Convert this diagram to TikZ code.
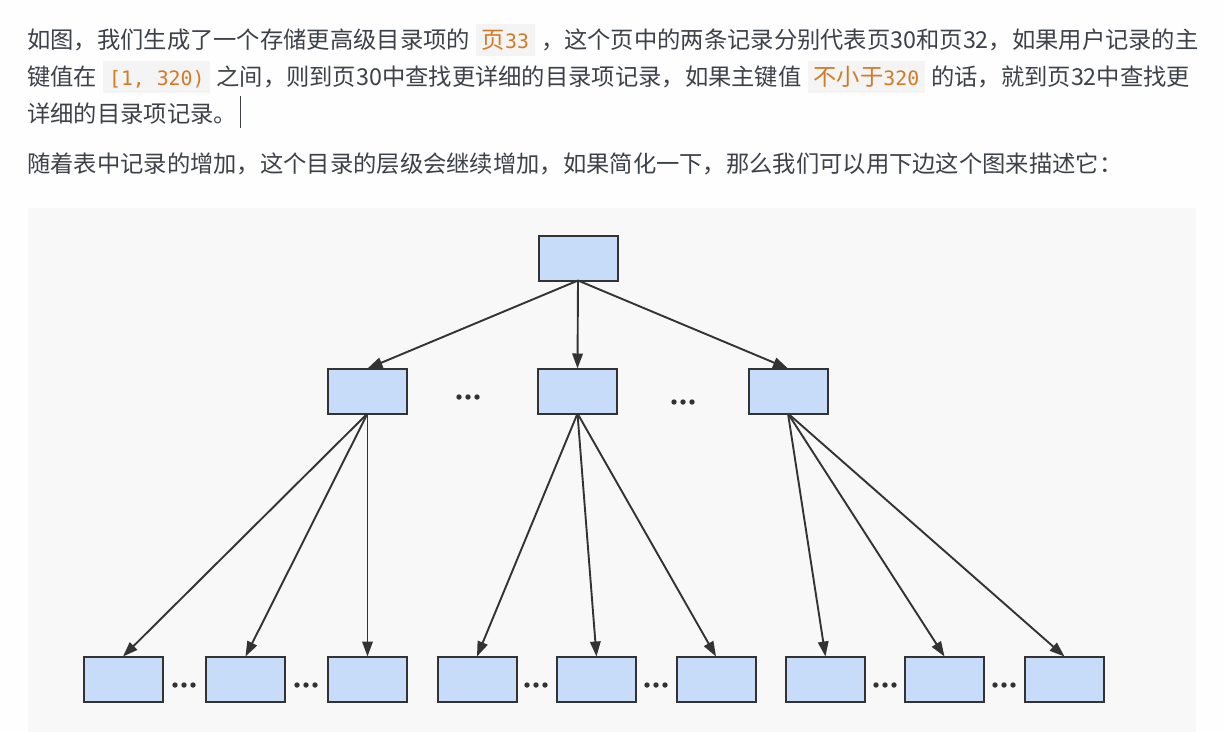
\documentclass[tikz,border=0pt]{standalone}
\usepackage{fontspec}
\setmainfont{Noto Sans CJK SC}
\newfontfamily\codefont{DejaVu Sans Mono}[Scale=0.85]
\usetikzlibrary{arrows.meta}

\definecolor{pagebg}{HTML}{FEFEFE}
\definecolor{panelbg}{HTML}{F8F8F8}
\definecolor{bodytext}{HTML}{3D4149}
\definecolor{codefg}{HTML}{D27B26}
\definecolor{codebg}{HTML}{F4F4F4}
\definecolor{boxfill}{HTML}{C6DCF8}
\definecolor{boxline}{HTML}{333333}

% inline code chip: orange mono text on a light grey background
\newcommand\codechip[1]{\hspace{6pt}{\setlength\fboxsep{0pt}\colorbox{codebg}{\hspace{6pt}\rule[-8pt]{0pt}{32pt}\codefont\color{codefg}#1\hspace{6pt}}}\hspace{6pt}}

\tikzset{
  para/.style={anchor=base west, inner sep=0pt, text=bodytext,
    font=\fontsize{23.3pt}{30pt}\selectfont},
  pagebox/.style={draw=boxline, line width=2pt, fill=boxfill,
    minimum width=79pt, minimum height=45pt, inner sep=0pt, outer sep=0pt},
  link/.style={draw=boxline, line width=1.9pt,
    -{Triangle[length=15pt,width=10.5pt]}},
  ellip/.pic={\fill[boxline] (-9,0) circle (2.7pt) (0,0) circle (2.7pt) (9,0) circle (2.7pt);},
}

\begin{document}
\begin{tikzpicture}[x=1pt,y=-1pt]
\useasboundingbox (0,0) rectangle (1224,732);
\fill[pagebg] (0,0) rectangle (1224,732);
\fill[panelbg] (28,208) rectangle (1196,732);

% paragraph text
\node[para] (line1) at (27,48) {如图，我们生成了一个存储更高级目录项的\codechip{{\normalfont 页}33}，这个页中的两条记录分别代表页30和页32，如果用户记录的主};
\node[para] (line2) at (27,85) {键值在\codechip{[1, 320)}之间，则到页30中查找更详细的目录项记录，如果主键值\codechip{{\normalfont 不小于}320}的话，就到页32中查找更};
\node[para] (line3) at (27,122) {详细的目录项记录。};
\draw[bodytext, line width=0.8pt] ([xshift=3pt,yshift=-6pt]line3.base east) -- ++(0,-32);
\node[para] (line4) at (27,172) {随着表中记录的增加，这个目录的层级会继续增加，如果简化一下，那么我们可以用下边这个图来描述它：};

% index pages
\node[pagebox] (root) at (578,258) {};

\node[pagebox] (m1) at (367.5,391) {};
\node[pagebox] (m2) at (577.5,391) {};
\node[pagebox] (m3) at (788,391) {};

\node[pagebox] (b1) at (123,679) {};
\node[pagebox] (b2) at (245.5,679) {};
\node[pagebox] (b3) at (367.5,679) {};
\node[pagebox] (b4) at (477,679) {};
\node[pagebox] (b5) at (596.5,679) {};
\node[pagebox] (b6) at (716,679) {};
\node[pagebox] (b7) at (825.5,679) {};
\node[pagebox] (b8) at (944.5,679) {};
\node[pagebox] (b9) at (1064.5,679) {};

% ellipses between pages
\pic (dm1) at (468,397) {ellip};
\pic (dm2) at (683,402) {ellip};
\pic (db1) at (184,685) {ellip};
\pic (db2) at (306,685) {ellip};
\pic (db3) at (536,685) {ellip};
\pic (db4) at (656,685) {ellip};
\pic (db5) at (885,685) {ellip};
\pic (db6) at (1004,685) {ellip};

% links
\foreach \c in {m1,m2,m3} \draw[link] (root.south) -- (\c.north);
\foreach \c in {b1,b2,b3} \draw[link] (m1.south) -- (\c.north);
\foreach \c in {b4,b5,b6} \draw[link] (m2.south) -- (\c.north);
\foreach \c in {b7,b8,b9} \draw[link] (m3.south) -- (\c.north);
\end{tikzpicture}
\end{document}
